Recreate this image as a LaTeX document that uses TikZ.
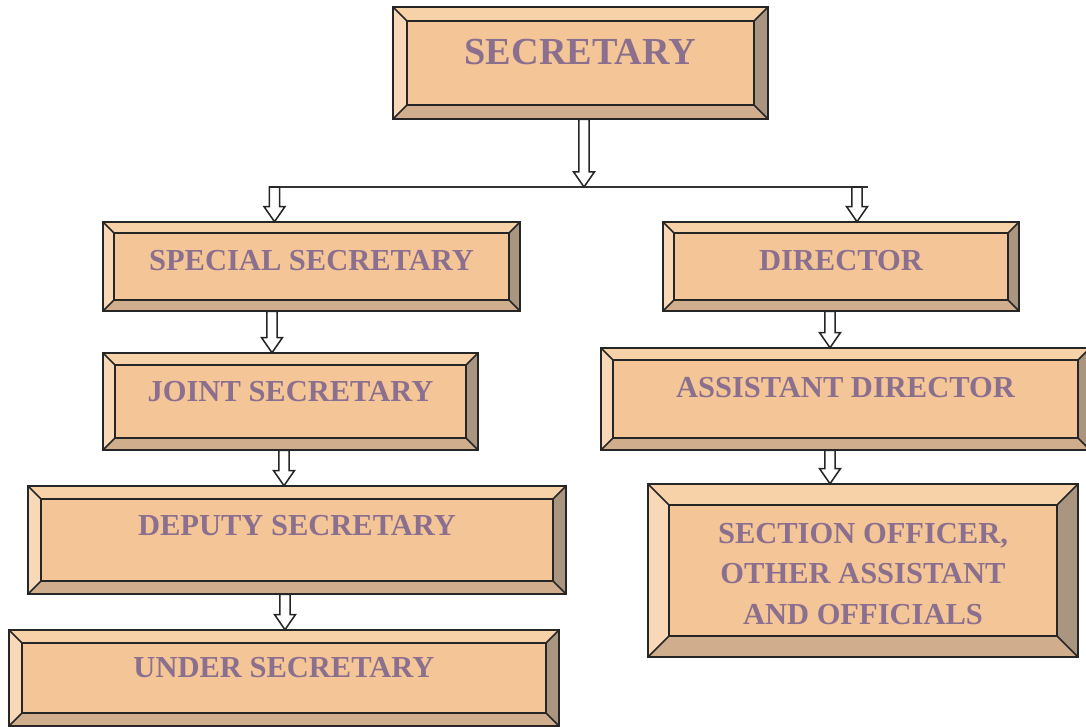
\documentclass[tikz,border=0pt]{standalone}
\usepackage{xcolor}
\usepackage{fontspec}
\setmainfont{Liberation Serif}
\usepackage{tikz}
\usetikzlibrary{calc,fit}

\definecolor{facecol}{HTML}{F4C597}
\definecolor{topcol}{HTML}{F7D1A7}
\definecolor{leftcol}{HTML}{F9D8B7}
\definecolor{botcol}{HTML}{CFAD8D}
\definecolor{rightcol}{HTML}{A99580}
\definecolor{labelcol}{RGB}{139,111,142}

% bevelled box: name, x1, y1, x2, y2, bevel, text y, text
\newcommand{\bevelbox}[8]{%
  \fill[topcol] (#2,#3) -- (#4,#3) -- (#4-#6,#3+#6) -- (#2+#6,#3+#6) -- cycle;
  \fill[leftcol] (#2,#3) -- (#2+#6,#3+#6) -- (#2+#6,#5-#6) -- (#2,#5) -- cycle;
  \fill[botcol] (#2,#5) -- (#2+#6,#5-#6) -- (#4-#6,#5-#6) -- (#4,#5) -- cycle;
  \fill[rightcol] (#4,#3) -- (#4,#5) -- (#4-#6,#5-#6) -- (#4-#6,#3+#6) -- cycle;
  \draw[edge, fill=facecol] (#2+#6,#3+#6) rectangle (#4-#6,#5-#6);
  \draw[edge] (#2,#3) -- (#2+#6,#3+#6) (#4,#3) -- (#4-#6,#3+#6)
              (#2,#5) -- (#2+#6,#5-#6) (#4,#5) -- (#4-#6,#5-#6);
  \draw[edge] (#2,#3) rectangle (#4,#5);
  \node[fit={(#2,#3) (#4,#5)}, inner sep=0pt] (#1) {};
  \node[label] (#1-text) at ({(#2+#4)/2},#7) {#8};
}

% hollow block arrow: x, from, to
\newcommand{\blockarrow}[3]{%
  \draw[blockarr] let \p1=(#2), \p2=(#3) in
    (#1*0.025cm-3.6pt,\y1) -- (#1*0.025cm-3.6pt,\y2+10.7pt)
    -- (#1*0.025cm-7.4pt,\y2+10.7pt) -- (#1*0.025cm,\y2)
    -- (#1*0.025cm+7.4pt,\y2+10.7pt) -- (#1*0.025cm+3.6pt,\y2+10.7pt)
    -- (#1*0.025cm+3.6pt,\y1) -- cycle;
}

\begin{document}
\begin{tikzpicture}[
        x=0.025cm, y=-0.025cm,
        edge/.style={draw=black!85, line width=1.1pt, line join=miter},
        label/.style={text=labelcol, font=\fontsize{21.7}{29}\selectfont\bfseries, align=center, inner sep=0pt},
        blockarr/.style={draw=black!85, fill=white, line width=1.1pt, line join=miter},
        split/.style={draw=black!80, line width=1.1pt}
    ]
        \useasboundingbox (0,0) rectangle (1086,727);

        % Top level
        \bevelbox{sec}{393}{7}{768}{119}{14}{52}{\fontsize{27.2}{32}\selectfont SECRETARY}

        % Left branch
        \bevelbox{spec}{103}{222}{520}{311}{11}{261}{SPECIAL SECRETARY}
        \bevelbox{joint}{103}{353}{478}{450}{12}{392}{JOINT SECRETARY}
        \bevelbox{dep}{28}{486}{566}{594}{13}{526}{DEPUTY SECRETARY}
        \bevelbox{under}{9}{630}{559}{726}{13}{668}{UNDER SECRETARY}

        % Right branch
        \bevelbox{dir}{663}{222}{1019}{311}{11}{261}{DIRECTOR}
        \bevelbox{asst}{601}{348}{1090}{450}{12}{388}{ASSISTANT DIRECTOR}
        \bevelbox{sect}{648}{484}{1078}{657}{21}{574}{SECTION OFFICER,\\OTHER ASSISTANT\\AND OFFICIALS}

        % Split line
        \coordinate (hl) at (269,187);
        \coordinate (hr) at (868,187);
        \coordinate (mid) at (584,187);
        \draw[split] (hl) -- (hr);

        % Arrows
        \blockarrow{584}{sec.south}{mid}
        \blockarrow{274.5}{hl}{spec.north}
        \blockarrow{857}{hr}{dir.north}
        \blockarrow{272}{spec.south}{joint.north}
        \blockarrow{830}{dir.south}{asst.north}
        \blockarrow{284}{joint.south}{dep.north}
        \blockarrow{830}{asst.south}{sect.north}
        \blockarrow{285}{dep.south}{under.north}
    \end{tikzpicture}
\end{document}
